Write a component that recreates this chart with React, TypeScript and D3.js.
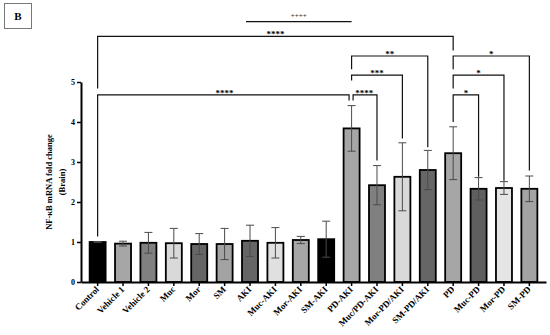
import React, { useEffect, useRef } from "react";
import * as d3 from "d3";

// Group names along the x axis
const categories = [
  "Control", "Vehicle 1", "Vehicle 2", "Muc", "Mor", "SM", "AKI", "Muc-AKI", "Mor-AKI",
  "SM-AKI", "PD-AKI", "Muc/PD-AKI", "Mor-PD/AKI", "SM-PD/AKI", "PD", "Muc-PD", "Mor-PD", "SM-PD",
];
// Mean fold change and error (SD)
const means = [1.0, 0.96, 0.98, 0.97, 0.95, 0.95, 1.03, 0.98, 1.05, 1.07, 3.84, 2.42, 2.63, 2.8, 3.22, 2.33, 2.35, 2.33];
const errors = [0.01, 0.06, 0.26, 0.37, 0.26, 0.39, 0.39, 0.38, 0.09, 0.45, 0.57, 0.49, 0.85, 0.49, 0.66, 0.28, 0.16, 0.32];
const barColors = [
  "#000000", "#a6a6a6", "#808080", "#d9d9d9", "#666666", "#a3a3a3", "#666666", "#e0e0e0", "#a6a6a6",
  "#000000", "#a6a6a6", "#808080", "#d9d9d9", "#666666", "#a6a6a6", "#5f5f5f", "#e5e5e5", "#a3a3a3",
];
const yTicks = [0, 1, 2, 3, 4, 5];

// Significance brackets (indices into categories, heights in y units)
const bracketFrom = [0, 0, 10, 10, 10, 14, 14, 14];
const bracketTo = [14, 10, 11, 12, 13, 15, 16, 17];
const bracketLevel = [6.14, 4.68, 4.68, 5.17, 5.65, 4.68, 5.17, 5.65];
const bracketLeftEnd = [4.84, 1.14, 4.54, 5.04, 5.32, 4.0, 4.84, 5.32];
const bracketRightEnd = [5.79, 4.54, 3.04, 3.59, 3.37, 2.63, 2.53, 2.79];
const bracketLabels = ["****", "****", "****", "***", "**", "*", "*", "*"];

// "++++" comparison line (no legs)
const plusFrom = 6;
const plusTo = 10;
const plusLevel = 6.51;
const plusLabel = "++++";

const FONT = "'Liberation Serif', 'Times New Roman', serif";

export default function App() {
  const ref = useRef<SVGSVGElement | null>(null);

  useEffect(() => {
    const width = 550,
      height = 335;
    const margin = { top: 82, left: 81, right: 4, bottom: 53 };

    const svg = d3.select(ref.current);
    svg.selectAll("*").remove();
    svg.attr("width", width).attr("height", height).style("font-family", FONT);

    svg.append("rect").attr("width", width).attr("height", height).attr("fill", "#fff");

    // Panel label
    svg
      .append("rect")
      .attr("x", 4.5)
      .attr("y", 3.5)
      .attr("width", 27)
      .attr("height", 25)
      .attr("fill", "#fff")
      .attr("stroke", "#777")
      .attr("stroke-width", 1);
    svg
      .append("text")
      .attr("x", 18)
      .attr("y", 20)
      .attr("text-anchor", "middle")
      .attr("font-size", 11)
      .attr("font-weight", "bold")
      .attr("fill", "#000")
      .text("B");

    const x = d3
      .scaleBand<string>()
      .domain(categories)
      .range([margin.left, width - margin.right])
      .paddingInner(0.37)
      .paddingOuter(0.34);

    const y = d3
      .scaleLinear()
      .domain([0, 5])
      .range([height - margin.bottom, margin.top]);

    const cx = (i: number) => (x(categories[i]) as number) + x.bandwidth() / 2;

    // Bars
    svg
      .append("g")
      .selectAll("rect")
      .data(means)
      .enter()
      .append("rect")
      .attr("x", (d, i) => x(categories[i]) as number)
      .attr("y", (d) => y(d))
      .attr("width", x.bandwidth())
      .attr("height", (d) => y(0) - y(d))
      .attr("fill", (d, i) => barColors[i])
      .attr("stroke", "#000")
      .attr("stroke-width", 1.8);

    // Error bars
    const err = svg.append("g").attr("stroke", "#4a4a4a").attr("stroke-width", 1);
    means.forEach((m, i) => {
      const c = cx(i);
      err.append("line").attr("x1", c).attr("x2", c).attr("y1", y(m - errors[i])).attr("y2", y(m + errors[i]));
      err.append("line").attr("x1", c - 4).attr("x2", c + 4).attr("y1", y(m + errors[i])).attr("y2", y(m + errors[i]));
      err.append("line").attr("x1", c - 4).attr("x2", c + 4).attr("y1", y(m - errors[i])).attr("y2", y(m - errors[i]));
    });

    // Y axis
    const yAxis = svg
      .append("g")
      .attr("transform", `translate(${margin.left},0)`)
      .call(d3.axisLeft(y).tickValues(yTicks).tickSize(4).tickSizeOuter(0).tickFormat(d3.format("d")));
    yAxis.select(".domain").attr("stroke-width", 2);
    yAxis.selectAll(".tick line").attr("stroke-width", 1.5);
    yAxis
      .selectAll(".tick text")
      .attr("font-family", FONT)
      .attr("font-weight", "bold")
      .attr("font-size", 8)
      .attr("x", -6);

    // X axis
    const xAxis = svg
      .append("g")
      .attr("transform", `translate(0,${y(0)})`)
      .call(d3.axisBottom(x).tickSize(4).tickSizeOuter(0));
    xAxis.select(".domain").attr("stroke-width", 2);
    xAxis.selectAll(".tick line").attr("stroke-width", 1.5);
    xAxis
      .selectAll(".tick text")
      .attr("font-family", FONT)
      .attr("font-weight", "bold")
      .attr("font-size", 9)
      .attr("text-anchor", "end")
      .attr("dy", 0)
      .attr("transform", "translate(2,8) rotate(-45)")
      .attr("y", 0)
      .attr("x", 0);

    // Y label
    const yl = svg
      .append("text")
      .attr("transform", `translate(52,${y(2.5)}) rotate(-90)`)
      .attr("text-anchor", "middle")
      .attr("font-size", 8.5)
      .attr("font-weight", "bold")
      .attr("fill", "#000");
    yl.append("tspan").attr("x", 0).attr("dy", 0).text("NF-κB mRNA fold change");
    yl.append("tspan").attr("x", 0).attr("dy", 13).text("(Brain)");

    // Significance brackets
    const br = svg.append("g").attr("fill", "none").attr("stroke", "#111").attr("stroke-width", 1.2);
    const lab = svg.append("g").attr("fill", "#000");
    bracketFrom.forEach((f, k) => {
      const t = bracketTo[k];
      let x1 = cx(f),
        x2 = cx(t);
      // separate legs where two brackets meet on the same level
      bracketFrom.forEach((f2, j) => {
        if (j !== k && f2 === t && bracketLevel[j] === bracketLevel[k]) x2 -= 2.5;
        if (j !== k && bracketTo[j] === f && bracketLevel[j] === bracketLevel[k]) x1 += 1.5;
      });
      const yl0 = y(bracketLevel[k]);
      br.append("path").attr(
        "d",
        `M${x1},${y(bracketLeftEnd[k])}V${yl0}H${x2}V${y(bracketRightEnd[k])}`
      );
      lab
        .append("text")
        .attr("x", (cx(f) + cx(t)) / 2)
        .attr("y", yl0 + 1)
        .attr("text-anchor", "middle")
        .attr("font-size", 9)
        .attr("font-weight", "bold")
        .text(bracketLabels[k]);
    });

    // ++++ line
    br.append("line")
      .attr("x1", cx(plusFrom) - 4)
      .attr("x2", cx(plusTo))
      .attr("y1", y(plusLevel))
      .attr("y2", y(plusLevel));
    lab
      .append("text")
      .attr("x", (cx(plusFrom) - 4 + cx(plusTo)) / 2)
      .attr("y", y(plusLevel) - 4)
      .attr("text-anchor", "middle")
      .attr("font-size", 7)
      .attr("font-weight", "bold")
      .attr("fill", "#333")
      .text(plusLabel);
  }, []);

  return (
    <svg
      ref={ref}
      style={{ position: "absolute", left: 0, top: 0, display: "block" }}
    />
  );
}
